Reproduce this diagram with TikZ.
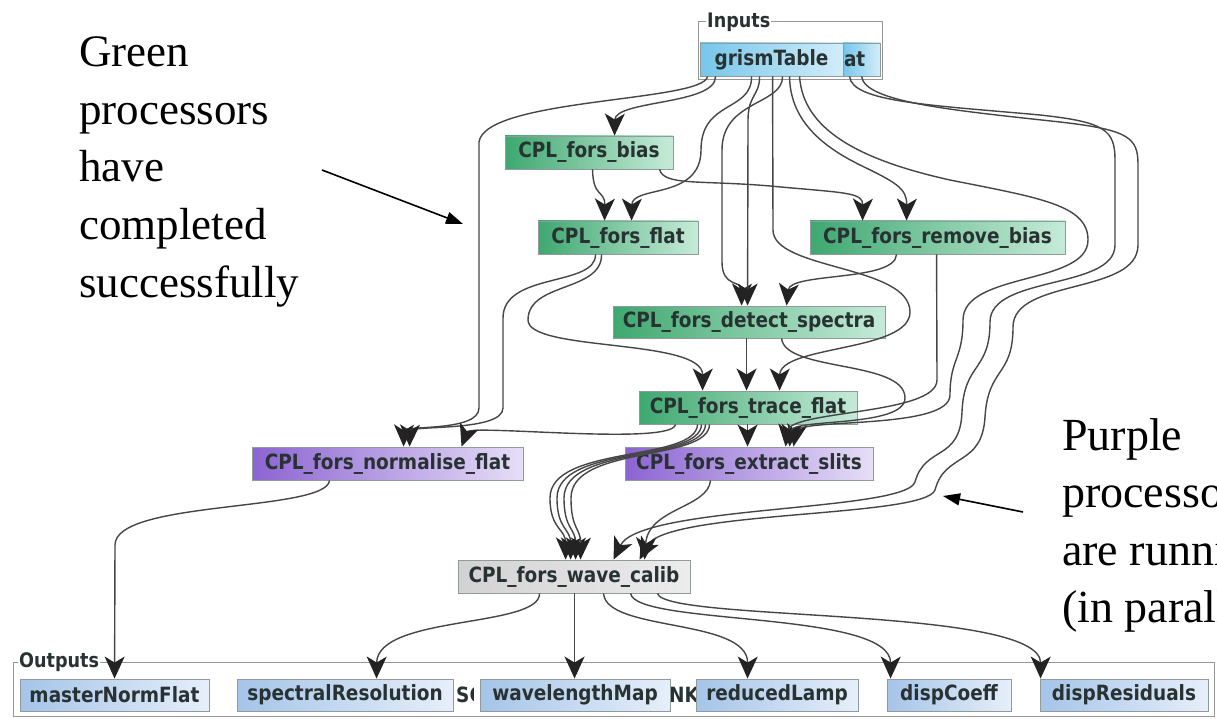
\documentclass[tikz,border=0pt]{standalone}
\usepackage{fontspec}
\setmainfont{Liberation Serif}
\newfontfamily\nodefont{DejaVu Sans}[FakeStretch=0.88]
\usetikzlibrary{arrows.meta}
\definecolor{gdark}{RGB}{62,168,112}
\definecolor{glight}{RGB}{198,235,216}
\definecolor{pdark}{RGB}{140,100,210}
\definecolor{plight}{RGB}{230,222,247}
\definecolor{bdark}{RGB}{118,198,234}
\definecolor{blight}{RGB}{210,237,249}
\definecolor{odark}{RGB}{165,196,232}
\definecolor{olight}{RGB}{230,239,250}
\definecolor{gydark}{RGB}{210,210,210}
\definecolor{gylight}{RGB}{236,236,236}
\definecolor{edgec}{RGB}{70,70,70}
\definecolor{tipc}{RGB}{35,35,35}
\definecolor{ntext}{RGB}{40,50,50}
\definecolor{nborder}{RGB}{145,155,155}
\definecolor{grpc}{RGB}{150,150,150}
\tikzset{
  nbox/.style={draw=nborder, line width=0.9pt, inner sep=0pt, minimum height=33pt,
    font=\nodefont\bfseries\fontsize{21}{25}\selectfont, text=ntext},
  gnode/.style={nbox, left color=gdark, right color=glight},
  pnode/.style={nbox, left color=pdark, right color=plight},
  ynode/.style={nbox, left color=gydark, right color=gylight},
  inode/.style={nbox, left color=bdark, right color=blight},
  onode/.style={nbox, left color=odark, right color=olight, minimum height=32pt},
  otext/.style={inner sep=0pt, font=\nodefont\bfseries\fontsize{21}{25}\selectfont, text=ntext},
  grp/.style={draw=grpc, line width=1pt},
  glabel/.style={fill=white, inner xsep=1pt, inner ysep=0pt, font=\nodefont\bfseries\fontsize{20}{24}\selectfont, text=ntext},
  bigtip/.tip={Stealth[length=22pt,width=20pt,inset=6pt,color=tipc]},
  ed/.style={draw=edgec, line width=1.4pt, -bigtip},
  anno/.style={inner sep=0pt, font=\fontsize{45}{54}\selectfont, text=black},
  annob/.style={inner sep=0pt, font=\fontsize{46}{55}\selectfont, text=black},
  annarr/.style={draw=black, line width=1.6pt, -{Triangle[length=17pt,width=12pt]}}
}
\begin{document}
\begin{tikzpicture}[x=1pt,y=-1pt]
\useasboundingbox (0,0) rectangle (1217,719);
\fill[white] (0,0) rectangle (1217,719);

% groups
\draw[grp] (698,22) rectangle (882,80);
\draw[grp] (13,662) rectangle (1214,716);

% inputs
\node[inode, minimum width=37pt, text width=35pt, align=left] (atn) at (861.5,59.5) {at};
\node[inode, minimum width=143pt] (gt) at (771.5,59.5) {grismTable};
\node[glabel, anchor=west] (inl) at (706,22) {Inputs};

% processors
\node[gnode, minimum width=168pt] (bias) at (589,152.5) {CPL\_fors\_bias};
\node[gnode, minimum width=160pt] (flat) at (618,237.5) {CPL\_fors\_flat};
\node[gnode, minimum width=255pt] (rmb) at (937.5,237.5) {CPL\_fors\_remove\_bias};
\node[gnode, minimum width=272pt, minimum height=32pt] (dsp) at (749,322) {CPL\_fors\_detect\_spectra};
\node[gnode, minimum width=218pt] (trf) at (748,407.5) {CPL\_fors\_trace\_flat};
\node[pnode, minimum width=271pt] (nrm) at (387.5,463.5) {CPL\_fors\_normalise\_flat};
\node[pnode, minimum width=248pt] (ext) at (749,463.5) {CPL\_fors\_extract\_slits};
\node[ynode, minimum width=232pt] (wav) at (574,576.5) {CPL\_fors\_wave\_calib};

% outputs
\node[glabel, anchor=west] (outl) at (18,662) {Outputs};
\begin{scope}
\clip (450,679) rectangle (473,711);
\node[otext, anchor=west] (sc) at (456,695) {SC};
\end{scope}
\node[otext, anchor=west] (nk) at (669,695) {NK};
\node[onode, minimum width=189pt] (mnf) at (114.5,695) {masterNormFlat};
\node[onode, minimum width=216pt] (spr) at (345,695) {spectralResolution};
\node[onode, minimum width=190pt] (wlm) at (575,695) {wavelengthMap};
\node[onode, minimum width=162pt] (rl) at (777,695) {reducedLamp};
\node[onode, minimum width=124pt] (dc) at (949,695) {dispCoeff};
\node[onode, minimum width=168pt] (dr) at (1124,695) {dispResiduals};

% connectors
\draw[ed] ([xshift=16pt]gt.south west) .. controls (716,105) and (615,100) .. ([xshift=110pt]bias.north west);
\draw[ed] ([xshift=8pt]gt.south west) .. controls (704,102) and (485,98) .. (479,142) -- (479,408) .. controls (479,432) and (404,425) .. ([xshift=152pt]nrm.north west);
\draw[ed] ([xshift=58pt]flat.south west) .. controls (596,287) and (503,272) .. (503,318) -- (503,408) .. controls (503,432) and (410,425) .. ([xshift=158pt]nrm.north west);
\draw[ed] ([xshift=64pt]flat.south west) .. controls (602,292) and (528,282) .. (528,320) .. controls (528,352) and (703,338) .. ([xshift=64pt]trf.north west);
\draw[ed] ([xshift=37pt]trf.south west) .. controls (672,446) and (470,424) .. ([xshift=210pt]nrm.north west);
\draw[ed] ([xshift=88pt]bias.south west) .. controls (593,198) and (605,190) .. ([xshift=67pt]flat.north west);
\draw[ed] ([xshift=52pt]gt.south west) .. controls (752,112) and (701,100) .. (701,150) .. controls (701,200) and (632,185) .. ([xshift=94pt]flat.north west);
\draw[ed] ([xshift=155pt]bias.south west) .. controls (664,186) and (700,180) .. (770,186) .. controls (845,193) and (863,192) .. ([xshift=53pt]rmb.north west);
\draw[ed] ([xshift=90pt]gt.south west) .. controls (790,125) and (830,150) .. (860,165) .. controls (895,182) and (907,188) .. ([xshift=97pt]rmb.north west);
\draw[ed] ([xshift=100pt]gt.south west) .. controls (803,130) and (860,160) .. (950,180) .. controls (1040,198) and (1088,205) .. (1088,240) .. controls (1088,285) and (963,272) .. (963,320) .. controls (963,360) and (950,358) .. (950,395) .. controls (950,430) and (798,418) .. ([xshift=169pt]ext.north west);
\draw[ed] ([xshift=7pt]atn.south west) .. controls (852,102) and (930,105) .. (1040,115) .. controls (1105,122) and (1115,130) .. (1115,160) -- (1115,245) .. controls (1115,290) and (990,275) .. (990,322) .. controls (990,372) and (964,362) .. (962,412) .. controls (960,462) and (925,445) .. (915,482) .. controls (905,512) and (640,505) .. ([xshift=156pt]wav.north west);
\draw[ed] ([xshift=19pt]atn.south west) .. controls (865,102) and (950,110) .. (1060,122) .. controls (1130,130) and (1138,138) .. (1138,165) -- (1138,245) .. controls (1138,295) and (1013,278) .. (1013,327) .. controls (1013,377) and (988,367) .. (985,417) .. controls (982,467) and (945,452) .. (935,490) .. controls (925,518) and (666,510) .. ([xshift=182pt]wav.north west);
\draw[ed] ([xshift=73pt]gt.south west) -- (773,230) .. controls (773,270) and (910,265) .. (910,312) .. controls (910,352) and (780,345) .. ([xshift=141pt]trf.north west);
\draw[ed] ([xshift=83pt]gt.south west) .. controls (783,105) and (722,100) .. (722,150) -- (722,262) .. controls (722,288) and (742,280) .. ([xshift=129pt]dsp.north west);
\draw[ed] ([xshift=60pt]gt.south west) .. controls (760,95) and (748,95) .. (748,120) -- ([xshift=135pt]dsp.north west);
\draw[ed] ([xshift=134pt]dsp.south west) -- ([xshift=108pt]trf.north west);
\draw[ed] ([xshift=87pt]rmb.south west) .. controls (895,282) and (790,272) .. ([xshift=174pt]dsp.north west);
\draw[ed] ([xshift=127pt]rmb.south west) -- (937,380) .. controls (937,415) and (790,410) .. ([xshift=161pt]ext.north west);
\draw[ed] ([xshift=169pt]dsp.south west) .. controls (785,372) and (905,360) .. (905,398) .. controls (905,428) and (792,418) .. ([xshift=165pt]ext.north west);
\draw[ed] ([xshift=109pt]trf.south west) -- ([xshift=123pt]ext.north west);
\draw[ed] ([xshift=59pt]trf.south west) .. controls (696,462) and (550,445) .. (550,498) .. controls (550,530) and (566,528) .. ([xshift=108pt]wav.north west);
\draw[ed] ([xshift=63pt]trf.south west) .. controls (700,462) and (557,445) .. (557,498) .. controls (557,530) and (571,528) .. ([xshift=113pt]wav.north west);
\draw[ed] ([xshift=67pt]trf.south west) .. controls (704,462) and (564,445) .. (564,498) .. controls (564,530) and (576,528) .. ([xshift=118pt]wav.north west);
\draw[ed] ([xshift=71pt]trf.south west) .. controls (708,462) and (571,445) .. (571,498) .. controls (571,530) and (581,528) .. ([xshift=123pt]wav.north west);
\draw[ed] ([xshift=86pt]ext.south west) .. controls (708,508) and (648,508) .. ([xshift=187pt]wav.north west);
\draw[ed] ([xshift=78pt]nrm.south west) .. controls (326,512) and (115,500) .. (115,545) -- ([xshift=95pt]mnf.north west);
\draw[ed] ([xshift=82pt]wav.south west) .. controls (540,628) and (377,615) .. ([xshift=140pt]spr.north west);
\draw[ed] ([xshift=117pt]wav.south west) -- ([xshift=95pt]wlm.north west);
\draw[ed] ([xshift=146pt]wav.south west) .. controls (606,632) and (748,618) .. ([xshift=52pt]rl.north west);
\draw[ed] ([xshift=173pt]wav.south west) .. controls (636,626) and (891,610) .. ([xshift=4pt]dc.north west);
\draw[ed] ([xshift=200pt]wav.south west) .. controls (664,622) and (1041,606) .. ([xshift=1pt]dr.north west);

% annotations
\node[anno, anchor=base west] (a1) at (79,67) {Green};
\node[anno, anchor=base west] (a2) at (79,124.5) {processors};
\node[anno, anchor=base west] (a3) at (79,182) {have};
\node[anno, anchor=base west] (a4) at (79,239.5) {completed};
\node[anno, anchor=base west] (a5) at (79,297) {successfully};
\node[annob, anchor=base west] (b1) at (1062,450) {Purple};
\node[annob, anchor=base west] (b2) at (1062,507.5) {processors};
\node[annob, anchor=base west] (b3) at (1062,565) {are running};
\node[annob, anchor=base west] (b4) at (1062,622.5) {(in parallel)};
\coordinate (la) at (322,170);
\coordinate (lb) at (463,224);
\coordinate (ra) at (1023,512);
\coordinate (rb) at (943,496);
\draw[annarr] (la) -- (lb);
\draw[annarr] (ra) -- (rb);
\end{tikzpicture}
\end{document}
